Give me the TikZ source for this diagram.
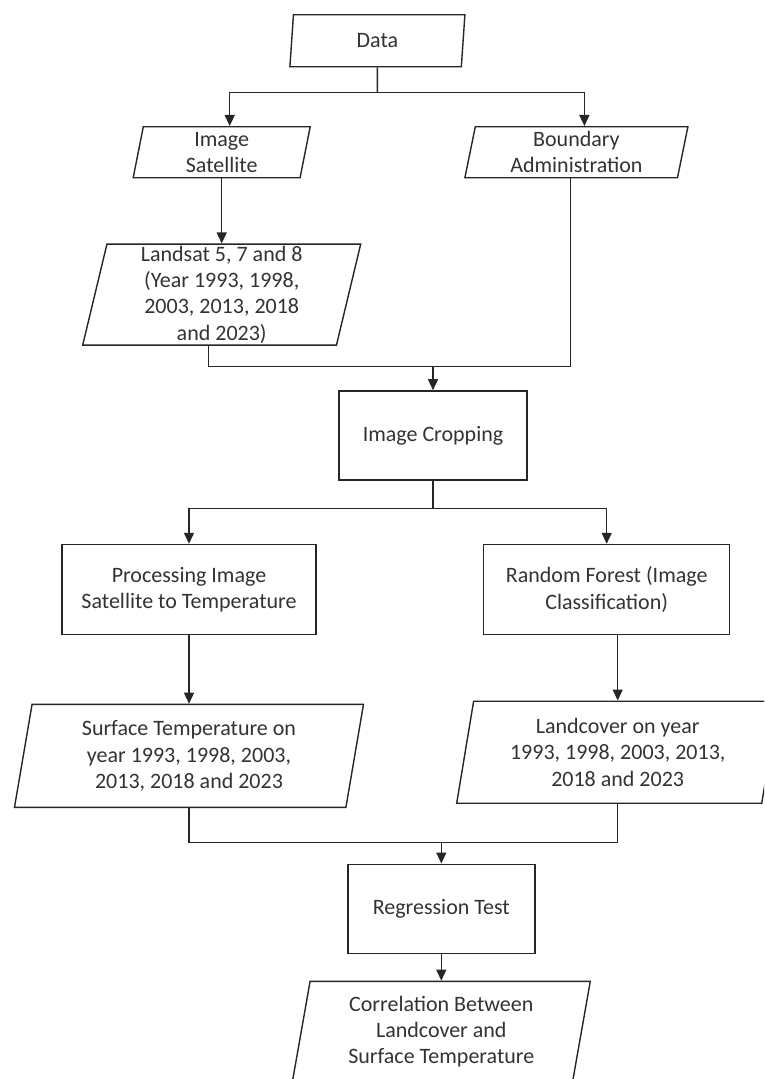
\documentclass[tikz,border=0pt]{standalone}
\usepackage{fontspec}
\setmainfont{Carlito}
\usetikzlibrary{positioning,shapes.geometric,arrows.meta}

\begin{document}
\begin{tikzpicture}[x=1pt, y=-1pt, font=\fontsize{22}{26.3}\selectfont,
        boxnode/.style={rectangle, draw=black!85, line width=1.4pt, align=center, text=black!80, inner sep=0pt},
        datanode/.style={trapezium, trapezium left angle=76, trapezium right angle=104, trapezium stretches body, draw=black!85, line width=1.4pt, align=center, text=black!80, inner sep=0pt},
        line/.style={draw=black!85, line width=1.4pt},
        arrow/.style={line, -{Triangle[length=11pt,width=10pt]}}]

        \useasboundingbox (0,0) rectangle (764,1079);
        \clip (0,0) rectangle (764,1079);
        \fill[white] (0,0) rectangle (764,1079);

        \node[datanode, minimum width=175pt, minimum height=52pt] (1) at (377.4,40.7) {Data};
        \node[datanode, minimum width=177pt, minimum height=51pt] (2) at (221.7,152.2) {Image\\Satellite};
        \node[datanode, minimum width=223pt, minimum height=51pt] (3) at (576.4,152.2) {Boundary\\Administration};
        \node[datanode, minimum width=278pt, minimum height=101pt] (4) [below=65pt of 2] {Landsat 5, 7 and 8\\(Year 1993, 1998,\\2003, 2013, 2018\\and 2023)};
        \node[boxnode, minimum width=188pt, minimum height=89pt] (5) at (433,435.4) {Image Cropping};
        \node[boxnode, minimum width=254pt, minimum height=90pt] (6) at (189,589.5) {Processing Image\\Satellite to Temperature};
        \node[boxnode, minimum width=246pt, minimum height=90pt] (7) at (606.7,589.5) {Random Forest (Image\\Classification)};
        \node[datanode, minimum width=349pt, minimum height=103pt] (8) [below=68.5pt of 6] {Surface Temperature on\\year 1993, 1998, 2003,\\2013, 2018 and 2023};
        \node[datanode, minimum width=322pt, minimum height=102pt] (9) [below=65.3pt of 7, xshift=11pt] {Landcover on year\\1993, 1998, 2003, 2013,\\2018 and 2023};
        \node[boxnode, minimum width=187pt, minimum height=89pt] (10) at (441.3,908.7) {Regression Test};
        \node[datanode, minimum width=298pt, minimum height=101pt] (11) [below=26.7pt of 10] {Correlation Between\\Landcover and\\Surface Temperature};

        \coordinate (s1) at (377.4,92.7);
        \coordinate (j1) at (433,366.7);
        \coordinate (s2) at (433,508.3);
        \coordinate (j2) at (441.3,842.3);

        \draw[line] (1.south) -- (s1);
        \draw[arrow] (s1) -| ([xshift=8pt]2.north);
        \draw[arrow] (s1) -| ([xshift=8pt]3.north);
        \draw[arrow] (2.south) -- (4.north);
        \draw[line] ([xshift=-13pt]4.south) |- (j1);
        \draw[line] ([xshift=-6pt]3.south) |- (j1);
        \draw[arrow] (j1) -- (5.north);
        \draw[line] (5.south) -- (s2);
        \draw[arrow] (s2) -| (6.north);
        \draw[arrow] (s2) -| (7.north);
        \draw[arrow] (6.south) -- (8.north);
        \draw[arrow] (7.south -| 9.north) -- (9.north);
        \draw[line] (8.south) |- (j2);
        \draw[line] (9.south) |- (j2);
        \draw[arrow] (j2) -- (10.north);
        \draw[arrow] (10.south) -- (11.north);

\end{tikzpicture}
\end{document}
